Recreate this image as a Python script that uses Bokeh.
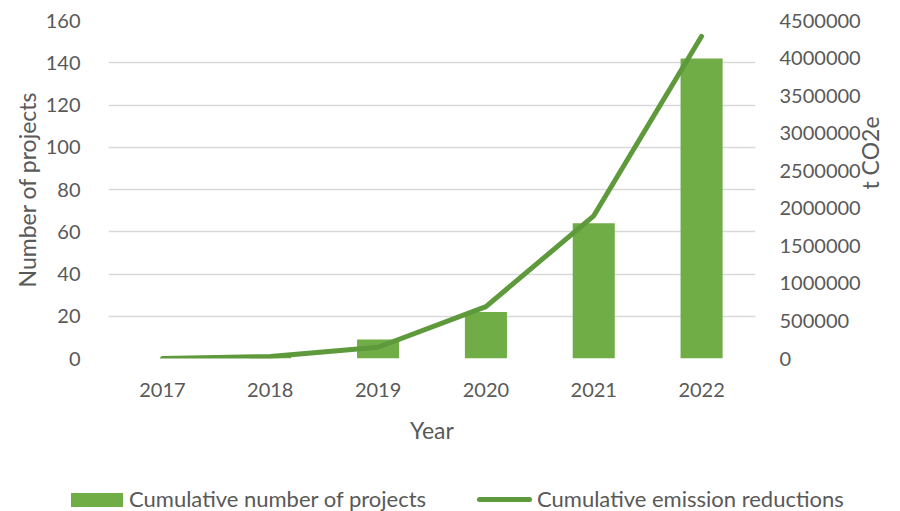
import math
from bokeh.plotting import figure
from bokeh.layouts import column
from bokeh.models import Range1d, LinearAxis, FactorRange, BasicTickFormatter, ColumnDataSource, Div
from bokeh.embed import file_html
from bokeh.resources import INLINE

years = ["2017", "2018", "2019", "2020", "2021", "2022"]
projects = [0, 1, 9, 22, 64, 142]
emissions = [0, 27000, 150000, 690000, 1900000, 4290000]

left_ticks = list(range(0, 161, 20))
right_ticks = list(range(0, 4500001, 500000))
series_names = ["Cumulative number of projects", "Cumulative emission reductions"]

src = ColumnDataSource(dict(year=years, projects=projects, emissions=emissions))

FONT = "Lato"
TXT = "#595959"
BAR_C = "#70AD47"
LINE_C = "#5E9A3C"

p = figure(width=900, height=450, x_range=FactorRange(*years, range_padding=0),
           y_range=Range1d(0, 160), output_backend="svg", toolbar_location=None,
           min_border_left=108, min_border_right=143, min_border_top=20, min_border_bottom=92)
p.outline_line_color = None
p.extra_y_ranges = {"co2": Range1d(0, 4500000)}

bars = p.vbar(x="year", top="projects", width=0.39, source=src, color=BAR_C, line_color=None)
line = p.line(x="year", y="emissions", source=src, y_range_name="co2", line_color=LINE_C,
              line_width=5, line_cap="round", line_join="round")

p.xgrid.grid_line_color = None
p.ygrid.grid_line_color = "#D9D9D9"
p.ygrid.grid_line_width = 1.5
p.yaxis.ticker = left_ticks
p.xaxis.axis_label = "Year"
p.yaxis.axis_label = "Number of projects"

ax_r = LinearAxis(y_range_name="co2", ticker=right_ticks, formatter=BasicTickFormatter(use_scientific=False),
                  axis_label="t CO2e")
p.add_layout(ax_r, "right")

for ax in p.xaxis + p.yaxis:
    ax.axis_line_color = None
    ax.major_tick_line_color = None
    ax.minor_tick_line_color = None
    ax.major_label_text_font = FONT
    ax.major_label_text_font_size = "20px"
    ax.major_label_text_color = TXT
    ax.axis_label_text_font = FONT
    ax.axis_label_text_font_size = "23px"
    ax.axis_label_text_color = TXT
    ax.axis_label_text_font_style = "normal"

p.xaxis.major_label_standoff = 18
p.xaxis.axis_label_standoff = 16
p.yaxis[0].major_label_standoff = 22
p.yaxis[0].axis_label_standoff = 2
ax_r.major_label_standoff = 18
ax_r.axis_label_standoff = 6
ax_r.axis_label_orientation = math.pi / 2

# legend strip below the chart
legend_html = f"""
<div style="position:relative;width:900px;height:61px;font-family:Lato;font-size:22px;color:{TXT};">
  <span style="position:absolute;left:71px;top:43px;width:52px;height:14px;background:{BAR_C};"></span>
  <span style="position:absolute;left:129px;top:35px;line-height:28px;white-space:nowrap;">{series_names[0]}</span>
  <span style="position:absolute;left:477px;top:47px;width:55px;height:5px;border-radius:3px;background:{LINE_C};"></span>
  <span style="position:absolute;left:537px;top:35px;line-height:28px;white-space:nowrap;">{series_names[1]}</span>
</div>
"""
legend_div = Div(text=legend_html, width=900, height=61, margin=0)

open("out.html", "w").write(file_html(column(p, legend_div), INLINE))
